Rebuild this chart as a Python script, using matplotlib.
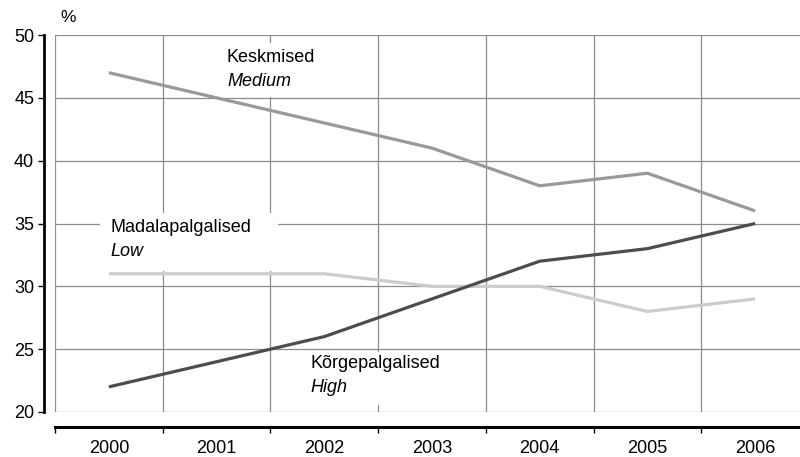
import matplotlib
matplotlib.use("Agg")
import matplotlib.pyplot as plt
from matplotlib.ticker import FixedLocator
from matplotlib.patches import Rectangle

years = ["2000", "2001", "2002", "2003", "2004", "2005", "2006"]
medium = [47, 45, 43, 41, 38, 39, 36]
low = [31, 31, 31, 30, 30, 28, 29]
high = [22, 24, 26, 29, 32, 33, 35]

plt.rcParams['font.family'] = ['Liberation Sans', 'DejaVu Sans']

W, H = 800, 457
L, R, T, B = 55, 809, 35, 412
fig = plt.figure(figsize=(W/100, H/100), dpi=100)
ax = fig.add_axes([L/W, 1-B/H, (R-L)/W, (B-T)/H])

x = list(range(len(years)))
ax.plot(x, medium, color="#999999", lw=2.3, solid_capstyle="butt", zorder=3)
ax.plot(x, low, color="#cccccc", lw=2.3, solid_capstyle="butt", zorder=3)
ax.plot(x, high, color="#4d4d4d", lw=2.3, solid_capstyle="butt", zorder=3)

ax.set_xlim(-0.5, 6.5)
ax.set_ylim(20, 50)
ax.set_yticks([20, 25, 30, 35, 40, 45, 50])
ax.set_xticks(x)
ax.set_xticklabels(years)
ax.xaxis.set_minor_locator(FixedLocator([i - 0.5 for i in range(8)]))

ax.grid(True, which="minor", axis="x", color="#8c8c8c", lw=0.9, zorder=0)
ax.grid(True, which="major", axis="y", color="#8c8c8c", lw=0.9, zorder=0)
ax.set_axisbelow(True)

for s in ["top", "right"]:
    ax.spines[s].set_visible(False)
ax.spines["left"].set_position(("outward", 8))
ax.spines["left"].set_linewidth(2)
ax.spines["bottom"].set_position(("outward", 11))
ax.spines["bottom"].set_linewidth(2.2)

ax.tick_params(axis="y", which="major", length=4, width=1, labelsize=13, pad=3, direction="out")
ax.tick_params(axis="x", which="major", length=0, labelsize=13, pad=9.5)
ax.tick_params(axis="x", which="minor", length=4.5, width=1, direction="out")


def px_x(p):
    return (p - L) / (R - L) * 7 - 0.5


def px_y(p):
    return 50 - (p - T) / (B - T) * 30


def white_box(x0, y0, x1, y1):
    ax.add_patch(Rectangle((px_x(x0), px_y(y1)), px_x(x1) - px_x(x0), px_y(y0) - px_y(y1),
                           facecolor="white", edgecolor="none", zorder=1.5))


white_box(217, 43, 335, 97)
white_box(100, 213, 278, 271)
white_box(300, 352, 445, 405)

fs = 13
ax.text(px_x(227), px_y(62), "Keskmised", fontsize=fs, va="baseline", ha="left", zorder=4)
ax.text(px_x(227), px_y(86), "Medium", fontsize=fs, style="italic", va="baseline", ha="left", zorder=4)
ax.text(px_x(110), px_y(232), "Madalapalgalised", fontsize=fs, va="baseline", ha="left", zorder=4)
ax.text(px_x(110), px_y(256), "Low", fontsize=fs, style="italic", va="baseline", ha="left", zorder=4)
ax.text(px_x(310), px_y(368), "Kõrgepalgalised", fontsize=fs, va="baseline", ha="left", zorder=4)
ax.text(px_x(310), px_y(392), "High", fontsize=fs, style="italic", va="baseline", ha="left", zorder=4)

fig.text(60/W, 1-18/H, "%", fontsize=12.5, va="center", ha="left")

fig.savefig("out.png", dpi=100)
